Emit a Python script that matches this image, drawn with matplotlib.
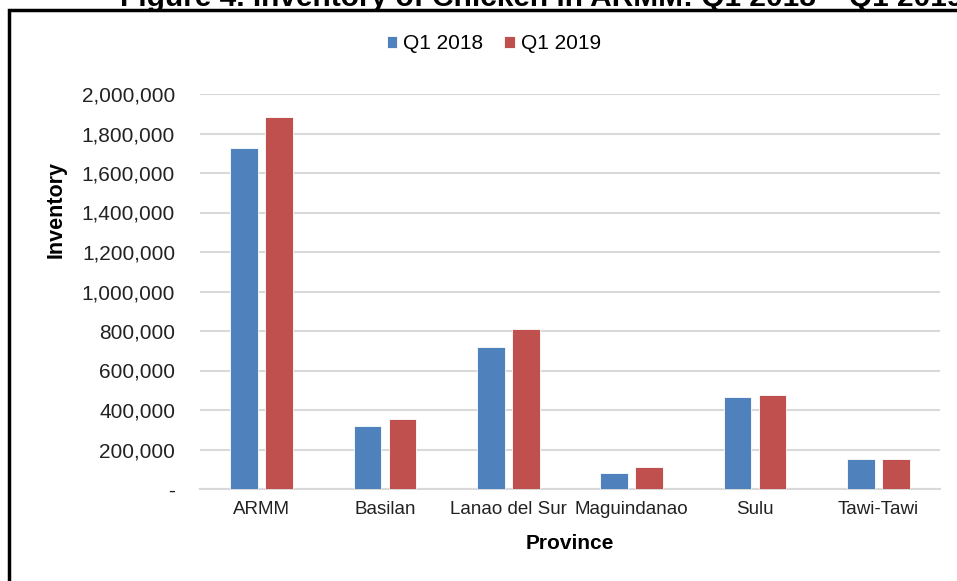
import matplotlib
matplotlib.use('Agg')
import matplotlib.pyplot as plt
import numpy as np
from matplotlib.patches import Rectangle

provinces = ['ARMM', 'Basilan', 'Lanao del Sur', 'Maguindanao', 'Sulu', 'Tawi-Tawi']
q1_2018 = [1728000, 319000, 720000, 83000, 467000, 150000]
q1_2019 = [1885000, 353000, 812000, 111000, 474000, 150000]
yticks = [0, 200000, 400000, 600000, 800000, 1000000, 1200000,
          1400000, 1600000, 1800000, 2000000]
ytick_labels = ['-'] + [f'{v:,}' for v in yticks[1:]]

plt.rcParams['font.family'] = ['Liberation Sans', 'DejaVu Sans']

fig = plt.figure(figsize=(9.57, 5.81), dpi=100)
ax = fig.add_axes([200 / 957, 1 - 489 / 581, 740 / 957, 395 / 581])

x = np.arange(len(provinces))
w = 0.225
off = 0.1425
ax.bar(x - off, q1_2018, w, color='#4F81BD', edgecolor='white', linewidth=0.6,
       label='Q1 2018', zorder=3)
ax.bar(x + off, q1_2019, w, color='#C0504D', edgecolor='white', linewidth=0.6,
       label='Q1 2019', zorder=3)

ax.set_xlim(-0.5, len(provinces) - 0.5)
ax.set_ylim(0, 2000000)
ax.set_yticks(yticks)
ax.set_yticklabels(ytick_labels)
ax.set_xticks(x)
ax.set_xticklabels(provinces)
ax.tick_params(axis='both', length=0, colors='#222222')
ax.tick_params(axis='y', pad=18, labelsize=15)
ax.tick_params(axis='x', pad=9, labelsize=13.5)
ax.grid(axis='y', color='#d9d9d9', linewidth=1.5, zorder=0)
for s in ['top', 'right', 'left']:
    ax.spines[s].set_visible(False)
ax.spines['bottom'].set_color('#d9d9d9')
ax.spines['bottom'].set_linewidth(1.5)

ax.set_xlabel('Province', fontsize=15, fontweight='bold')
ax.xaxis.set_label_coords(0.5, -0.115)
ax.set_ylabel('Inventory', fontsize=15.5, fontweight='bold')
ax.yaxis.set_label_coords(-0.18, 0.708)

ax.legend(loc='center', bbox_to_anchor=(0.397, 1.127), ncol=2,
          frameon=False, fontsize=15, handlelength=0.5, handleheight=0.5,
          handletextpad=0.3, columnspacing=1.0)

# outer border (chart area box)
fig.patches.append(Rectangle((9 / 957, -0.1), 2, 1.1 - 10 / 581,
                             transform=fig.transFigure, fill=False,
                             edgecolor='black', linewidth=2.5))
fig.text(120 / 957, 1 - 6 / 581,
         'Figure 4. Inventory of Chicken in ARMM: Q1 2018 \u2013 Q1 2019',
         fontsize=21.5, fontweight='bold', ha='left', va='baseline')

fig.savefig('out.png', dpi=100)
